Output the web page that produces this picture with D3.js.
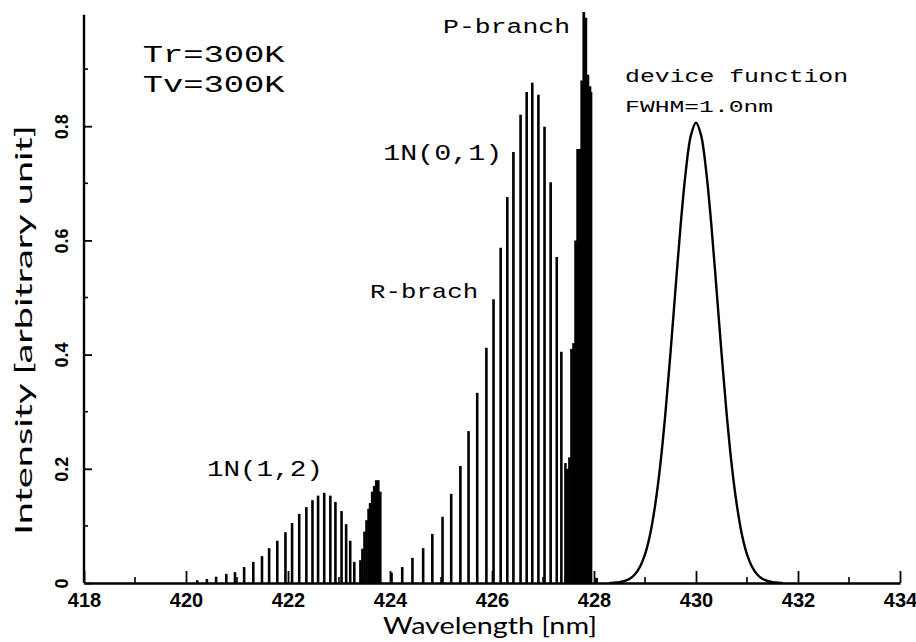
<!DOCTYPE html>
<html>
<head>
<meta charset="utf-8">
<script src="https://cdn.jsdelivr.net/npm/d3@7"></script>
<style>
  html, body { margin: 0; padding: 0; background: #fff; }
  svg { display: block; }
</style>
</head>
<body>
<svg id="chart" width="916" height="642"></svg>
<script>
// ---------------- DATA ----------------
const xTickValues = [418, 420, 422, 424, 426, 428, 430, 432, 434];
const xTickLabels = ["418", "420", "422", "424", "426", "428", "430", "432", "434"];
const xMinorTicks = [419, 421, 423, 425, 427, 429, 431, 433];
const yTickValues = [0, 0.2, 0.4, 0.6, 0.8];
const yTickLabels = ["0", "0.2", "0.4", "0.6", "0.8"];
const yMinorTicks = [0.1, 0.3, 0.5, 0.7, 0.9];

// 1N(1,2) band rotational lines
const band12Wl  = [420.22, 420.41, 420.59, 420.79, 420.96, 421.14, 421.32, 421.49, 421.63, 421.79,
                   421.95, 422.08, 422.22, 422.36, 422.48, 422.59, 422.71, 422.83, 422.93, 423.05,
                   423.14, 423.22, 423.30, 423.42];
const band12Int = [0.005, 0.007, 0.011, 0.016, 0.019, 0.028, 0.037, 0.047, 0.061, 0.074,
                   0.089, 0.105, 0.121, 0.133, 0.145, 0.153, 0.158, 0.153, 0.142, 0.126,
                   0.103, 0.074, 0.037, 0.040];
// 1N(1,2) band head (dense lines)
const head12Wl  = [423.46, 423.50, 423.54, 423.58, 423.61, 423.65, 423.69, 423.73, 423.77, 423.81];
const head12Int = [0.06, 0.09, 0.11, 0.13, 0.14, 0.16, 0.17, 0.18, 0.18, 0.16];

// 1N(0,1) band R-branch lines
const band01Wl  = [424.03, 424.24, 424.44, 424.65, 424.83, 425.03, 425.20, 425.38, 425.54, 425.71,
                   425.89, 426.03, 426.17, 426.30, 426.42, 426.56, 426.68, 426.79, 426.91, 427.03,
                   427.15, 427.27, 427.36, 427.44];
const band01Int = [0.018, 0.028, 0.044, 0.061, 0.086, 0.116, 0.156, 0.205, 0.266, 0.333,
                   0.412, 0.497, 0.587, 0.676, 0.755, 0.820, 0.860, 0.876, 0.855, 0.799,
                   0.702, 0.571, 0.405, 0.210];
// 1N(0,1) band head / P-branch (dense lines)
const head01Wl  = [427.48, 427.52, 427.56, 427.60, 427.64, 427.68, 427.72, 427.76, 427.80, 427.84,
                   427.88, 427.92, 427.94, 428.05];
const head01Int = [0.20, 0.22, 0.41, 0.42, 0.60, 0.76, 0.76, 0.88, 1.00, 0.99,
                   0.89, 0.87, 0.86, 0.009];

// device function (FWHM = 1.0 nm)
const deviceWl  = [428.3, 428.4, 428.5, 428.6, 428.7, 428.8, 428.9, 429.0, 429.1, 429.2, 429.3, 429.4,
                   429.5, 429.6, 429.7, 429.8, 429.9, 430.0, 430.1, 430.2, 430.3, 430.4, 430.5,
                   430.6, 430.7, 430.8, 430.9, 431.0, 431.1, 431.2, 431.3, 431.4, 431.5, 431.6, 431.7];
const deviceInt = [0.0002, 0.0007, 0.0016, 0.0035, 0.0074, 0.015, 0.028, 0.050, 0.085, 0.137, 0.207, 0.297,
                   0.403, 0.517, 0.628, 0.721, 0.784, 0.806, 0.784, 0.721, 0.628, 0.517, 0.403,
                   0.297, 0.207, 0.137, 0.085, 0.050, 0.028, 0.015, 0.0074, 0.0035, 0.0016, 0.0007, 0.0002];

const textLabels = [
  { t: "Tr=300K", wl: 419.15, v: 0.913, size: 24, len: 142 },
  { t: "Tv=300K", wl: 419.15, v: 0.860, size: 24, len: 142 },
  { t: "P-branch", wl: 425.04, v: 0.963, size: 20, len: 127 },
  { t: "1N(0,1)", wl: 423.87, v: 0.741, size: 22, len: 119 },
  { t: "R-brach", wl: 423.61, v: 0.499, size: 21, len: 108 },
  { t: "1N(1,2)", wl: 420.41, v: 0.188, size: 22, len: 116 },
  { t: "device function", wl: 428.61, v: 0.877, size: 19, len: 223 },
  { t: "FWHM=1.0nm", wl: 428.61, v: 0.825, size: 17, len: 148 }
];

// ---------------- CHART ----------------
const svg = d3.select("#chart");
const x = d3.scaleLinear().domain([418, 434]).range([84, 900]);
const y = d3.scaleLinear().domain([0, 1]).range([583, 12]);

// spectral lines
const lineGroup = svg.append("g").attr("stroke", "#000").attr("stroke-linecap", "butt");
function drawLines(wl, val, width) {
  lineGroup.append("g").selectAll("line")
    .data(wl.map((w, i) => ({ w, v: val[i] })))
    .join("line")
    .attr("x1", d => x(d.w)).attr("x2", d => x(d.w))
    .attr("y1", y(0)).attr("y2", d => y(d.v))
    .attr("stroke-width", width);
}
drawLines(band12Wl, band12Int, 2.6);
drawLines(head12Wl, head12Int, 2.6);
drawLines(band01Wl, band01Int, 2.6);
drawLines(head01Wl, head01Int, 2.8);

// device function curve
svg.append("path")
  .datum(deviceWl.map((w, i) => [w, deviceInt[i]]))
  .attr("fill", "none")
  .attr("stroke", "#000")
  .attr("stroke-width", 2.4)
  .attr("d", d3.line().x(d => x(d[0])).y(d => y(d[1])).curve(d3.curveCatmullRom));

// x axis
const xAxis = d3.axisBottom(x)
  .tickValues(xTickValues)
  .tickFormat((d, i) => xTickLabels[i])
  .tickSizeInner(-12).tickSizeOuter(0).tickPadding(10);
const gx = svg.append("g").attr("transform", `translate(0,${y(0)})`).call(xAxis);
gx.select(".domain").attr("stroke-width", 2.4);
gx.selectAll(".tick line").attr("stroke-width", 1.8);
gx.selectAll("text")
  .attr("font-family", "Liberation Sans, Arial, sans-serif")
  .attr("font-weight", "bold").attr("font-size", 20).attr("fill", "#000");
gx.append("g").selectAll("line").data(xMinorTicks).join("line")
  .attr("x1", d => x(d)).attr("x2", d => x(d))
  .attr("y1", 0).attr("y2", -6).attr("stroke", "#000").attr("stroke-width", 1.6);

// y axis
const yAxis = d3.axisLeft(y)
  .tickValues(yTickValues)
  .tickFormat((d, i) => yTickLabels[i])
  .tickSizeInner(-8).tickSizeOuter(0).tickPadding(0);
const gy = svg.append("g").attr("transform", `translate(${x(418)},0)`).call(yAxis);
gy.select(".domain").attr("d", `M0,${y(0)}V${y(0.995)}`).attr("stroke-width", 2.4);
gy.selectAll(".tick line").attr("stroke-width", 1.8);
gy.selectAll(".tick text")
  .attr("x", 0).attr("y", 0).attr("dy", "0.35em")
  .attr("text-anchor", "middle")
  .attr("transform", "translate(-22,0) rotate(-90)")
  .attr("font-family", "Liberation Sans, Arial, sans-serif")
  .attr("font-weight", "bold").attr("font-size", 18).attr("fill", "#000");
gy.append("g").selectAll("line").data(yMinorTicks).join("line")
  .attr("x1", 0).attr("x2", 4)
  .attr("y1", d => y(d)).attr("y2", d => y(d)).attr("stroke", "#000").attr("stroke-width", 1.6);

// axis titles
svg.append("text")
  .attr("x", 490).attr("y", 634)
  .attr("text-anchor", "middle")
  .attr("font-family", "Lato, 'Open Sans', sans-serif")
  .attr("font-size", 23)
  .attr("textLength", 214).attr("lengthAdjust", "spacingAndGlyphs")
  .text("Wavelength [nm]");
svg.append("text")
  .attr("transform", "translate(32,330) rotate(-90)")
  .attr("text-anchor", "middle")
  .attr("font-family", "Lato, 'Open Sans', sans-serif")
  .attr("font-size", 24)
  .attr("textLength", 410).attr("lengthAdjust", "spacingAndGlyphs")
  .text("Intensity [arbitrary unit]");

// annotations
svg.append("g").selectAll("text").data(textLabels).join("text")
  .attr("x", d => x(d.wl)).attr("y", d => y(d.v))
  .attr("font-family", "'Liberation Mono', 'Courier New', monospace")
  .attr("font-size", d => d.size)
  .attr("textLength", d => d.len).attr("lengthAdjust", "spacingAndGlyphs")
  .attr("fill", "#000")
  .text(d => d.t);
</script>
</body>
</html>
